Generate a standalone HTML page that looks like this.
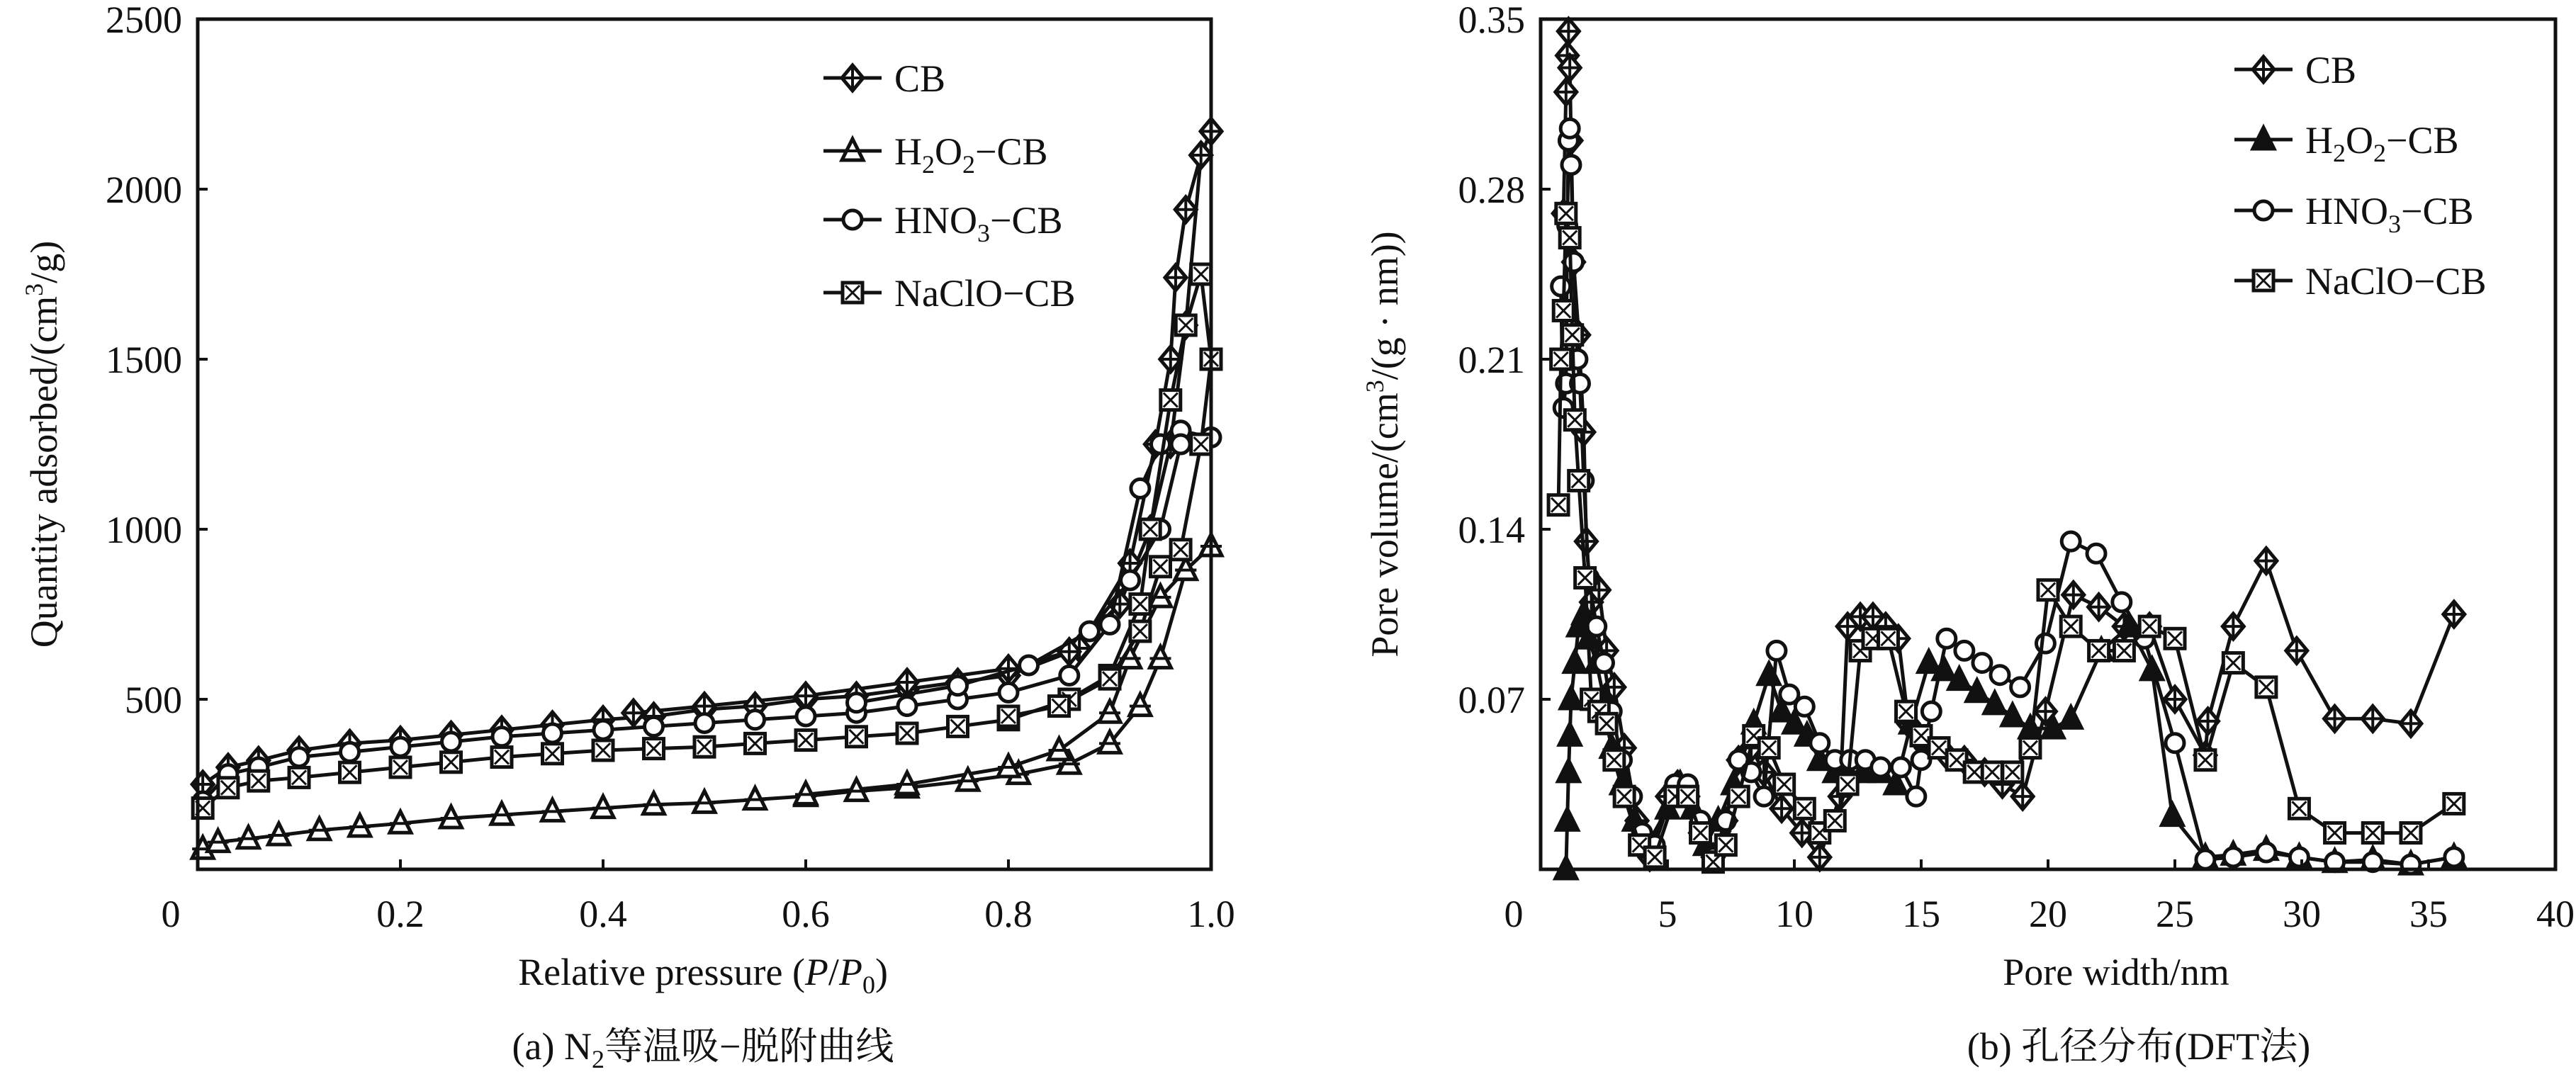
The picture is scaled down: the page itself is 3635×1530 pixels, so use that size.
<!DOCTYPE html>
<html><head><meta charset="utf-8"><style>
html,body{margin:0;padding:0;background:#fff;}
svg{display:block;font-family:"Liberation Serif","Noto Serif CJK SC",serif;}
</style></head><body>
<svg id="fig" width="3635" height="1530" viewBox="0 0 3635 1530" xmlns="http://www.w3.org/2000/svg"></svg>
<script>
// ---------- Chart (a) data ----------
const aXTicks = [0, 0.2, 0.4, 0.6, 0.8, 1.0];
const aXTickLabels = ["0", "0.2", "0.4", "0.6", "0.8", "1.0"];
const aYTicks = [500, 1000, 1500, 2000, 2500];
const aYTickLabels = ["500", "1000", "1500", "2000", "2500"];
const aCB_x = [0.005,0.03,0.06,0.1,0.15,0.2,0.25,0.3,0.35,0.4,0.45,0.5,0.55,0.6,0.65,0.7,0.75,0.8,0.87,0.92,0.945,0.96,0.965,0.975,0.99,1.0,0.99,0.975,0.96,0.94,0.91,0.86,0.8,0.7,0.6,0.5,0.43];
const aCB_y = [250,300,320,350,370,380,395,410,425,440,450,470,480,500,510,530,550,570,650,900,1250,1500,1740,1940,2100,2170,2100,1600,1250,1000,780,640,590,550,510,480,460];
const aH_x = [0.005,0.02,0.05,0.08,0.12,0.16,0.2,0.25,0.3,0.35,0.4,0.45,0.5,0.55,0.6,0.65,0.7,0.76,0.81,0.86,0.9,0.93,0.95,0.975,1.0,0.975,0.95,0.92,0.9,0.85,0.8,0.7,0.6];
const aH_y = [60,80,90,100,115,125,135,150,160,170,180,190,195,205,215,230,240,260,280,310,370,480,620,880,950,880,800,620,460,350,300,250,220];
const aN_x = [0.005,0.03,0.06,0.1,0.15,0.2,0.25,0.3,0.35,0.4,0.45,0.5,0.55,0.6,0.65,0.7,0.75,0.8,0.86,0.9,0.93,0.95,0.97,1.0,0.97,0.95,0.92,0.88,0.82,0.75,0.65];
const aN_y = [200,280,300,330,345,360,375,390,400,410,420,430,440,450,460,480,500,520,570,720,1120,1250,1290,1270,1250,1000,850,700,600,540,490];
const aS_x = [0.005,0.03,0.06,0.1,0.15,0.2,0.25,0.3,0.35,0.4,0.45,0.5,0.55,0.6,0.65,0.7,0.75,0.8,0.86,0.9,0.93,0.94,0.96,0.975,0.99,1.0,0.99,0.97,0.95,0.93,0.9,0.85,0.8];
const aS_y = [180,240,260,270,285,300,315,330,340,350,355,360,370,380,390,400,420,440,500,570,780,1000,1380,1600,1750,1500,1250,940,890,700,560,480,450];

// ---------- Chart (b) data ----------
const bXTicks = [0,5,10,15,20,25,30,35,40];
const bXTickLabels = ["0","5","10","15","20","25","30","35","40"];
const bYTicks = [0.07,0.14,0.21,0.28,0.35];
const bYTickLabels = ["0.07","0.14","0.21","0.28","0.35"];
const bCB_x = [0.9,1.0,1.05,1.1,1.15,1.2,1.3,1.5,1.7,1.8,2.0,2.3,2.6,2.9,3.3,3.8,4.3,5,5.4,5.8,6.3,6.8,7.3,7.8,8.3,8.8,9.5,10.3,11,11.8,12.1,12.6,13.1,13.6,14.1,14.5,15.2,16,16.7,17.5,18.2,19,19.9,21,22,23,24,25,26.2,26.3,27.3,28.6,29.8,31.3,32.8,34.3,36];
const bCB_y = [0.27,0.32,0.335,0.345,0.33,0.3,0.25,0.22,0.18,0.135,0.11,0.115,0.09,0.075,0.05,0.02,0.005,0.03,0.035,0.03,0.015,0.005,0.02,0.045,0.05,0.04,0.025,0.015,0.005,0.03,0.1,0.104,0.104,0.1,0.095,0.06,0.05,0.047,0.045,0.04,0.035,0.03,0.065,0.113,0.108,0.1,0.1,0.07,0.047,0.061,0.1,0.127,0.09,0.062,0.062,0.06,0.105];
const bH_x = [1.0,1.05,1.1,1.15,1.2,1.35,1.5,1.7,1.9,2.2,2.5,2.8,3.2,3.7,4.2,5,5.5,6,6.5,7,7.6,8.4,9,9.5,10,10.5,11,11.6,12.1,12.7,13.4,14,14.6,15.3,15.9,16.5,17.2,17.9,18.6,19.3,20.2,20.9,22.1,23.2,24.1,24.9,26.2,27.3,28.6,29.9,31.3,32.8,34.3,36];
const bH_y = [0,0.02,0.04,0.055,0.07,0.085,0.1,0.105,0.095,0.085,0.07,0.05,0.035,0.02,0.01,0.025,0.035,0.025,0.01,0.02,0.035,0.06,0.08,0.065,0.06,0.055,0.045,0.04,0.04,0.04,0.04,0.035,0.06,0.085,0.082,0.078,0.073,0.068,0.063,0.058,0.058,0.062,0.09,0.1,0.082,0.022,0.005,0.006,0.008,0.005,0.003,0.004,0.002,0.005];
const bN_x = [0.8,0.85,0.9,1.0,1.05,1.1,1.15,1.2,1.3,1.45,1.55,1.7,1.9,2.2,2.5,2.8,3.2,3.6,4.0,4.5,5.3,5.8,6.3,6.8,7.3,7.8,8.3,8.8,9.3,9.8,10.4,11,11.6,12.2,12.8,13.4,14.2,14.8,15,15.4,16,16.7,17.4,18.1,18.9,19.9,20.9,21.9,22.9,23.8,25,26.2,27.3,28.6,29.9,31.3,32.8,34.3,36];
const bN_y = [0.24,0.21,0.19,0.2,0.265,0.3,0.305,0.29,0.25,0.21,0.2,0.16,0.12,0.1,0.085,0.065,0.045,0.03,0.015,0.01,0.035,0.035,0.02,0.005,0.02,0.045,0.04,0.03,0.09,0.072,0.067,0.052,0.045,0.045,0.045,0.042,0.042,0.03,0.045,0.065,0.095,0.09,0.085,0.08,0.075,0.093,0.135,0.13,0.11,0.095,0.052,0.004,0.005,0.007,0.005,0.003,0.003,0.002,0.005];
const bS_x = [0.7,0.8,0.9,1.0,1.15,1.25,1.35,1.5,1.75,2.0,2.3,2.6,2.9,3.3,3.9,4.5,5.3,5.8,6.3,6.8,7.3,7.8,8.4,9,9.6,10.4,11,11.6,12.1,12.6,13.1,13.7,14.4,15,15.7,16.4,17.1,17.8,18.6,19.3,20,20.9,22,23,24,25,26.2,27.3,28.6,29.9,31.3,32.8,34.3,36];
const bS_y = [0.15,0.21,0.23,0.27,0.26,0.22,0.185,0.16,0.12,0.07,0.065,0.06,0.045,0.03,0.01,0.005,0.03,0.03,0.015,0.003,0.01,0.03,0.055,0.05,0.035,0.025,0.015,0.02,0.035,0.09,0.095,0.095,0.065,0.055,0.05,0.045,0.04,0.04,0.04,0.05,0.115,0.1,0.09,0.09,0.1,0.095,0.045,0.085,0.075,0.025,0.015,0.015,0.015,0.027];

const NS = "http://www.w3.org/2000/svg";
const svg = document.getElementById('fig');
function mk(tag, attrs, parent){ const e=document.createElementNS(NS,tag); for(const k in attrs) e.setAttribute(k,attrs[k]); (parent||svg).appendChild(e); return e; }

function marker(g, type, x, y, filled){
  const r=15;
  if(type==='diamond'){
    mk('polygon',{points:`${x},${y-r-3} ${x+r},${y} ${x},${y+r+3} ${x-r},${y}`,fill:'#fff',stroke:'#111','stroke-width':5},g);
    mk('path',{d:`M${x-r+3} ${y}H${x+r-3}M${x} ${y-r}V${y+r}`,stroke:'#111','stroke-width':4},g);
  } else if(type==='tri'){
    mk('polygon',{points:`${x},${y-r-2} ${x+r},${y+r-2} ${x-r},${y+r-2}`,fill:filled?'#111':'#fff',stroke:'#111','stroke-width':5},g);
    if(!filled) mk('path',{d:`M${x-r} ${y}H${x+r}`,stroke:'#111','stroke-width':4},g);
  } else if(type==='circle'){
    mk('circle',{cx:x,cy:y,r:r-2,fill:'#fff',stroke:'#111','stroke-width':5},g);
  } else {
    mk('rect',{x:x-r+1,y:y-r+1,width:2*r-2,height:2*r-2,fill:'#fff',stroke:'#111','stroke-width':5},g);
    mk('path',{d:`M${x-r+5} ${y-r+5}L${x+r-5} ${y+r-5}M${x+r-5} ${y-r+5}L${x-r+5} ${y+r-5}`,stroke:'#111','stroke-width':3},g);
  }
}

function txt(x,y,s,attrs,name){ const t=mk('text',Object.assign({x:x,y:y,'font-size':54,fill:'#111'},attrs||{})); t.innerHTML=s;   return t; }

function chart(cfg){
  const {L,R,T,B,xmin,xmax,ymin,ymax,id}=cfg;
  const sx=v=>L+(v-xmin)/(xmax-xmin)*(R-L);
  const sy=v=>B-(v-ymin)/(ymax-ymin)*(B-T);
  const g=mk('g',{});
  
  
  cfg.series.forEach(s=>{
    const sg=mk('g',{},g);
    
    
    const pts=s.x.map((v,i)=>sx(v).toFixed(1)+','+sy(s.y[i]).toFixed(1)).join(' ');
    const pl=mk('polyline',{points:pts,fill:'none',stroke:'#111','stroke-width':5},sg);
    
    
    s.x.forEach((v,i)=>marker(sg,s.type,sx(v),sy(s.y[i]),s.filled));
  });
  const fr=mk('rect',{x:L,y:T,width:R-L,height:B-T,fill:'none',stroke:'#111','stroke-width':5});
  
  
  cfg.xt.forEach((v,i)=>{
    if(i>0 && i<cfg.xt.length-1) mk('line',{x1:sx(v),x2:sx(v),y1:B,y2:B-14,stroke:'#111','stroke-width':4});
    txt(i===0?L-38:sx(v), 1308, cfg.xl[i], {'text-anchor':'middle'}, id+'-x-tick-label');
  });
  cfg.yt.forEach((v,i)=>{
    if(i<cfg.yt.length-1) mk('line',{x1:L,x2:L+14,y1:sy(v),y2:sy(v),stroke:'#111','stroke-width':4});
    txt(L-22, sy(v)+19, cfg.yl[i], {'text-anchor':'end'}, id+'-y-tick-label');
  });
  cfg.series.forEach((s,i)=>{
    const ly=cfg.legY[i];
    const lg=mk('g',{});
    
    
    mk('line',{x1:cfg.legX,x2:cfg.legX+82,y1:ly,y2:ly,stroke:'#111','stroke-width':5},lg);
    marker(lg,s.type,cfg.legX+41,ly,s.filled);
    const t=txt(cfg.legX+100, ly+19, s.label, {}, id+'-legend-label');
    lg.appendChild(t);
  });
}

chart({id:'a',L:279,R:1709,T:27,B:1227,xmin:0,xmax:1,ymin:0,ymax:2500,
  xt:aXTicks,xl:aXTickLabels,yt:aYTicks,yl:aYTickLabels,legX:1162,legY:[110,213,310,413],
  series:[
    {name:'cb',label:'CB',type:'diamond',x:aCB_x,y:aCB_y},
    {name:'h2o2',label:'H<tspan font-size="36" dy="12">2</tspan><tspan dy="-12">O</tspan><tspan font-size="36" dy="12">2</tspan><tspan dy="-12">−CB</tspan>',type:'tri',x:aH_x,y:aH_y},
    {name:'hno3',label:'HNO<tspan font-size="36" dy="12">3</tspan><tspan dy="-12">−CB</tspan>',type:'circle',x:aN_x,y:aN_y},
    {name:'naclo',label:'NaClO−CB',type:'square',x:aS_x,y:aS_y}]});

chart({id:'b',L:2174,R:3606,T:27,B:1227,xmin:0,xmax:40,ymin:0,ymax:0.35,
  xt:bXTicks,xl:bXTickLabels,yt:bYTicks,yl:bYTickLabels,legX:3153,legY:[98,197,297,396],
  series:[
    {name:'cb',label:'CB',type:'diamond',x:bCB_x,y:bCB_y},
    {name:'h2o2',label:'H<tspan font-size="36" dy="12">2</tspan><tspan dy="-12">O</tspan><tspan font-size="36" dy="12">2</tspan><tspan dy="-12">−CB</tspan>',type:'tri',filled:true,x:bH_x,y:bH_y},
    {name:'hno3',label:'HNO<tspan font-size="36" dy="12">3</tspan><tspan dy="-12">−CB</tspan>',type:'circle',x:bN_x,y:bN_y},
    {name:'naclo',label:'NaClO−CB',type:'square',x:bS_x,y:bS_y}]});

txt(992,1390,'Relative pressure (<tspan font-style="italic">P</tspan>/<tspan font-style="italic">P</tspan><tspan font-size="36" dy="12">0</tspan><tspan dy="-12">)</tspan>',{'text-anchor':'middle'},'a-x-axis-title');
txt(0,0,'Quantity adsorbed/(cm<tspan font-size="36" dy="-20">3</tspan><tspan dy="20">/g)</tspan>',{'text-anchor':'middle',transform:'translate(80,627) rotate(-90)'},'a-y-axis-title');
txt(992,1495,'(a) N<tspan font-size="36" dy="12">2</tspan><tspan dy="-12">等温吸−脱附曲线</tspan>',{'text-anchor':'middle'},'a-caption');
txt(2986,1390,'Pore width/nm',{'text-anchor':'middle'},'b-x-axis-title');
txt(0,0,'Pore volume/(cm<tspan font-size="36" dy="-20">3</tspan><tspan dy="20">/(g · nm))</tspan>',{'text-anchor':'middle',transform:'translate(1972,627) rotate(-90)'},'b-y-axis-title');
txt(3018,1495,'(b) 孔径分布(DFT法)',{'text-anchor':'middle'},'b-caption');
</script>
</body></html>
